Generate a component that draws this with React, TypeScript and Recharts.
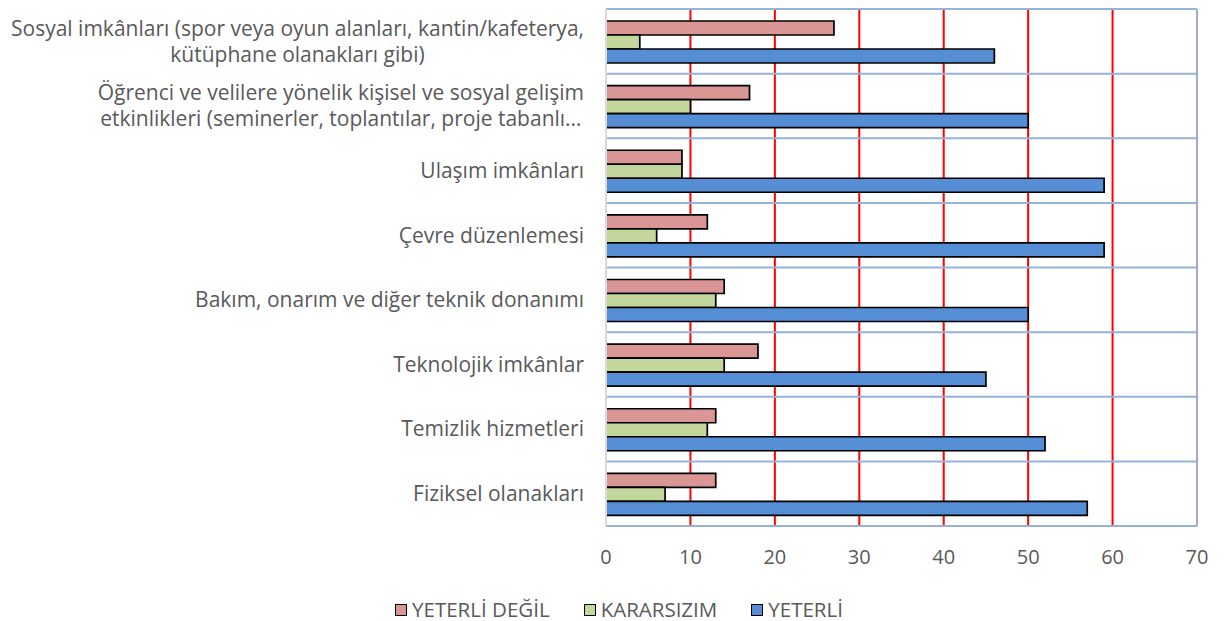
import React from 'react'
import {
  Bar,
  BarChart,
  CartesianGrid,
  Legend,
  ReferenceLine,
  XAxis,
  YAxis,
} from 'recharts'

const FONT = '"Open Sans", Lato, sans-serif'
const TEXT = '#595959'

// category labels, top to bottom ("\n" = wrapped line)
const categories = [
  'Sosyal imkânları (spor veya oyun alanları, kantin/kafeterya,\nkütüphane olanakları gibi)',
  'Öğrenci ve velilere yönelik kişisel ve sosyal gelişim\netkinlikleri (seminerler, toplantılar, proje tabanlı…',
  'Ulaşım imkânları',
  'Çevre düzenlemesi',
  'Bakım, onarım ve diğer teknik donanımı',
  'Teknolojik imkânlar',
  'Temizlik hizmetleri',
  'Fiziksel olanakları',
]

const yeterliDegil = [27, 17, 9, 12, 14, 18, 13, 13]
const kararsizim = [4, 10, 9, 6, 13, 14, 12, 7]
const yeterli = [46, 50, 59, 59, 50, 45, 52, 57]

const xTicks = [0, 10, 20, 30, 40, 50, 60, 70]

const series = [
  { key: 'yeterliDegil', label: 'YETERLİ DEĞİL', color: '#D99694' },
  { key: 'kararsizim', label: 'KARARSIZIM', color: '#C3D69B' },
  { key: 'yeterli', label: 'YETERLİ', color: '#558ED5' },
]

const data = categories.map((name, i) => ({
  name,
  yeterliDegil: yeterliDegil[i],
  kararsizim: kararsizim[i],
  yeterli: yeterli[i],
}))

let measureCtx: CanvasRenderingContext2D | null = null
function textWidth(s: string, size: number) {
  if (!measureCtx) measureCtx = document.createElement('canvas').getContext('2d')
  if (!measureCtx) return s.length * size * 0.5
  measureCtx.font = `${size}px ${FONT}`
  return measureCtx.measureText(s).width
}

// wrapped category label: lines centred on each other, block right-aligned
function CategoryTick(props: any) {
  const { x, y, payload } = props
  const lines = String(payload.value).split('\n')
  const size = 21
  const blockW = Math.max(...lines.map((l) => textWidth(l, size)))
  const cx = x - blockW / 2
  return (
    <g>
      {lines.map((line, i) => (
        <text
          key={i}
          x={cx}
          y={y + (i - (lines.length - 1) / 2) * 26}
          dy="0.35em"
          textAnchor="middle"
          fontFamily={FONT}
          fontSize={size}
          fill={TEXT}
        >
          {line}
        </text>
      ))}
    </g>
  )
}

function LegendContent() {
  return (
    <div
      style={{
        display: 'flex',
        justifyContent: 'center',
        gap: 34,
        paddingTop: 21,
        fontFamily: FONT,
        fontSize: 20.5,
        color: TEXT,
        lineHeight: '24px',
      }}
    >
      {series.map((s) => (
        <div key={s.key} style={{ display: 'flex', alignItems: 'center' }}>
          <span
            style={{
              display: 'inline-block',
              width: 10,
              height: 10,
              background: s.color,
              border: '1.5px solid #000',
              marginRight: 5,
              marginTop: 2,
            }}
          />
          {s.label}
        </div>
      ))}
    </div>
  )
}

function rowBoundaries(props: any) {
  const { yAxis, offset } = props
  const n = categories.length
  const scale = yAxis?.scale
  if (scale && typeof scale === 'function' && typeof scale.bandwidth === 'function') {
    const bw = scale.bandwidth()
    const pts = categories.map((c) => scale(c))
    return [...pts, pts[n - 1] + bw]
  }
  return Array.from({ length: n + 1 }, (_, i) => offset.top + (i * offset.height) / n)
}

export default function App() {
  return (
    <div style={{ position: 'absolute', left: 0, top: 0, background: '#fff' }}>
      <BarChart
        width={1224}
        height={621}
        data={data}
        layout="vertical"
        barCategoryGap={12}
        barGap={0}
        margin={{ top: 9, right: 27, left: 0, bottom: 0 }}
      >
        <CartesianGrid horizontal={false} stroke="#FF0000" strokeWidth={2} />
        <CartesianGrid
          vertical={false}
          stroke="#95B3D7"
          strokeWidth={2}
          horizontalCoordinatesGenerator={rowBoundaries}
        />
        <XAxis
          type="number"
          domain={[0, 70]}
          ticks={xTicks}
          axisLine={false}
          tickLine={false}
          tickMargin={18}
          height={50}
          tick={{ fontSize: 20, fill: TEXT, fontFamily: FONT }}
        />
        <YAxis
          type="category"
          dataKey="name"
          width={606}
          tickLine={false}
          tickMargin={16}
          axisLine={{ stroke: '#D9D9D9', strokeWidth: 2 }}
          tick={<CategoryTick />}
          interval={0}
        />
        <ReferenceLine x={70} stroke="#A9A6D0" strokeWidth={2} />
        <Legend verticalAlign="bottom" height={45} content={<LegendContent />} wrapperStyle={{ left: 0, width: 1238 }} />
        {series.map((s) => (
          <Bar
            key={s.key}
            dataKey={s.key}
            name={s.label}
            fill={s.color}
            stroke="#000"
            strokeWidth={1.7}
            isAnimationActive={false}
          />
        ))}
      </BarChart>
    </div>
  )
}
